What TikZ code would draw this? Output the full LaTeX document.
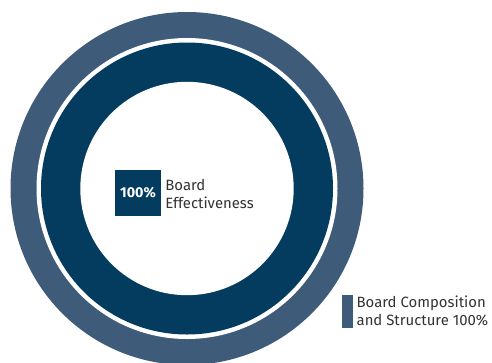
\documentclass[tikz,border=0pt]{standalone}
\usepackage{fontspec}
\setmainfont{Fira Sans}
\usetikzlibrary{positioning}
\definecolor{ringblue}{RGB}{62,91,122}
\definecolor{deepblue}{RGB}{3,60,94}
\begin{document}
\begin{tikzpicture}[x=1pt, y=-1pt,
		lbl/.style={align=left, text=black!80, font=\fontsize{14.9}{18}\selectfont, inner sep=0pt}]
		\useasboundingbox (0,0) rectangle (492,362);
		\begin{scope}
			\clip (0,0) rectangle (492,362);
			\fill[ringblue] (187,188.5) circle (176.5);
			\fill[white] (187,188.5) circle (150.5);
			\fill[deepblue] (187,188.5) circle (146);
			\fill[white] (187,188.5) circle (106.7);
		\end{scope}
		
		\node[fill=deepblue, minimum size=46pt, inner sep=0pt, text=white, font=\fontsize{14.3}{16}\selectfont\bfseries] (pct) at (138,193) {100\%};
		\node[lbl, anchor=west, right=4pt of pct.east, yshift=-0.5pt] (eff) {Board\\Effectiveness};
		
		\node[fill=ringblue, minimum width=10.7pt, minimum height=32.7pt, inner sep=0pt] (bar) at (347.4,311.4) {};
		\node[lbl, right=3.5pt of bar.east] (comp) {Board Composition\\and Structure 100\%};
	\end{tikzpicture}
\end{document}
